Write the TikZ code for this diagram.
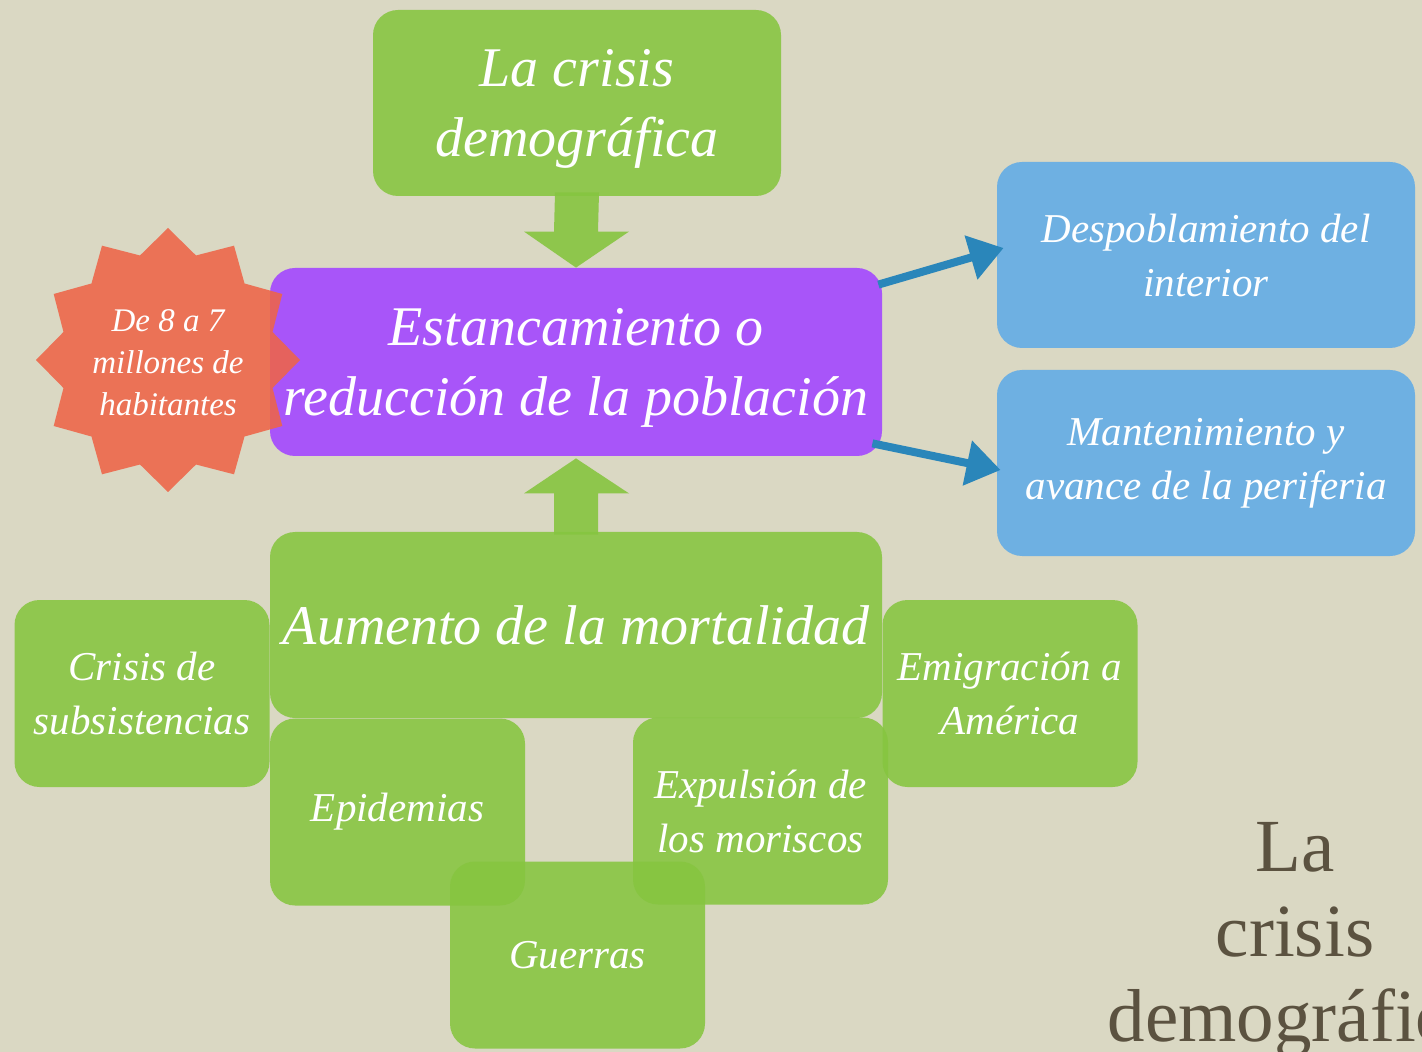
\documentclass[tikz,border=0pt]{standalone}
\usepackage{fontspec}
\setmainfont{Liberation Serif}
\usetikzlibrary{shapes.geometric,arrows.meta,calc}
\definecolor{bg}{HTML}{DAD8C3}
\definecolor{boxgreen}{HTML}{86C540}
\definecolor{boxpurple}{HTML}{A855F9}
\definecolor{boxblue}{HTML}{6EB0E2}
\definecolor{starred}{HTML}{EE6448}
\definecolor{arrowblue}{HTML}{2A86BA}
\definecolor{titlebrown}{HTML}{5B5240}
\tikzset{
  basebox/.style={rounded corners=12.5pt, inner sep=0pt, text=white, align=center},
  greenbox/.style={basebox, fill=boxgreen, fill opacity=0.88, text opacity=1},
  bigtext/.style={font=\fontsize{28}{35}\selectfont\itshape},
  smalltext/.style={font=\fontsize{20.5}{27}\selectfont\itshape},
  bluebox/.style={basebox, fill=boxblue, minimum width=209pt, minimum height=93pt, smalltext},
  smallgreen/.style={greenbox, minimum width=127.5pt, minimum height=93.5pt, smalltext},
  blockarrow/.style={fill=boxgreen, fill opacity=0.9},
  bluearrow/.style={draw=arrowblue, line width=4pt, -{Triangle[length=17pt,width=22pt]}},
}
\begin{document}
\begin{tikzpicture}[x=0.5pt,y=-0.5pt]
\useasboundingbox (0,0) rectangle (1422,1052);
\clip (0,0) rectangle (1422,1052);
\fill[bg] (0,0) rectangle (1422,1052);

% main boxes
\node[greenbox, minimum width=204pt, minimum height=93pt] (top) at (577,103) {};
\node[text=white, align=center, bigtext] (toptxt) at ($(top.center)+(0,6)$) {La crisis\\demográfica};
\node[basebox, fill=boxpurple, minimum width=306pt, minimum height=94pt] (pop) at (576,362) {};
\node[star, star points=12, star point ratio=1.22, minimum size=132pt, inner sep=0pt, fill=starred, fill opacity=0.88] (star) at (168,360) {};
\node[text=white, align=center, bigtext] (poptxt) at ($(pop.center)+(0,6)$) {Estancamiento o\\reducción de la población};
\node[text=white, align=center, font=\fontsize{16.5}{21}\selectfont\itshape] (startxt) at ($(star.center)+(0,3)$) {De 8 a 7\\millones de\\habitantes};

% blue boxes
\node[bluebox] (desp) at (1206,255) {Despoblamiento del\\interior};
\node[bluebox] (mant) at (1206,463) {Mantenimiento y\\avance de la periferia};

% lower green boxes
\node[smallgreen] (crisis) at (142,693.5) {Crisis de\\subsistencias};
\node[smallgreen] (emig) at (1010,693.5) {Emigración a\\América};
\node[greenbox, bigtext, minimum width=306pt, minimum height=93pt] (mort) at (576,625) {Aumento de la mortalidad};
\node[smallgreen] (epid) at (397.5,812) {Epidemias};
\node[smallgreen] (expu) at (760.5,811) {Expulsión de\\los moriscos};
\node[smallgreen] (guer) at (577.5,955) {Guerras};

% green block arrows
\fill[blockarrow] ($(top.south)+(-22,-4)$) -- ($(top.south)+(22,-4)$) -- ($(pop.north)+(22,-36)$) -- ($(pop.north)+(53,-36)$) -- (pop.north) -- ($(pop.north)+(-52,-36)$) -- ($(pop.north)+(-22,-36)$) -- cycle;
\fill[blockarrow] ($(mort.north)+(-22,3)$) -- ($(mort.north)+(22,3)$) -- ($(pop.south)+(22,37)$) -- ($(pop.south)+(53,37)$) -- ($(pop.south)+(0,2)$) -- ($(pop.south)+(-52,37)$) -- ($(pop.south)+(-22,37)$) -- cycle;

% blue arrows
\draw[bluearrow] ($(pop.north east)+(-4,17)$) -- ($(desp.west)+(7,-7)$);
\draw[bluearrow] ($(pop.south east)+(-10,-13)$) -- ($(mant.west)+(4,7)$);

% slide title (cut off at the right edge, as in the reference)
\node[text=titlebrown, align=center, font=\fontsize{37.5}{42.5}\selectfont] (title) at (1295,940) {La\\crisis\\demográfica};
\end{tikzpicture}
\end{document}
